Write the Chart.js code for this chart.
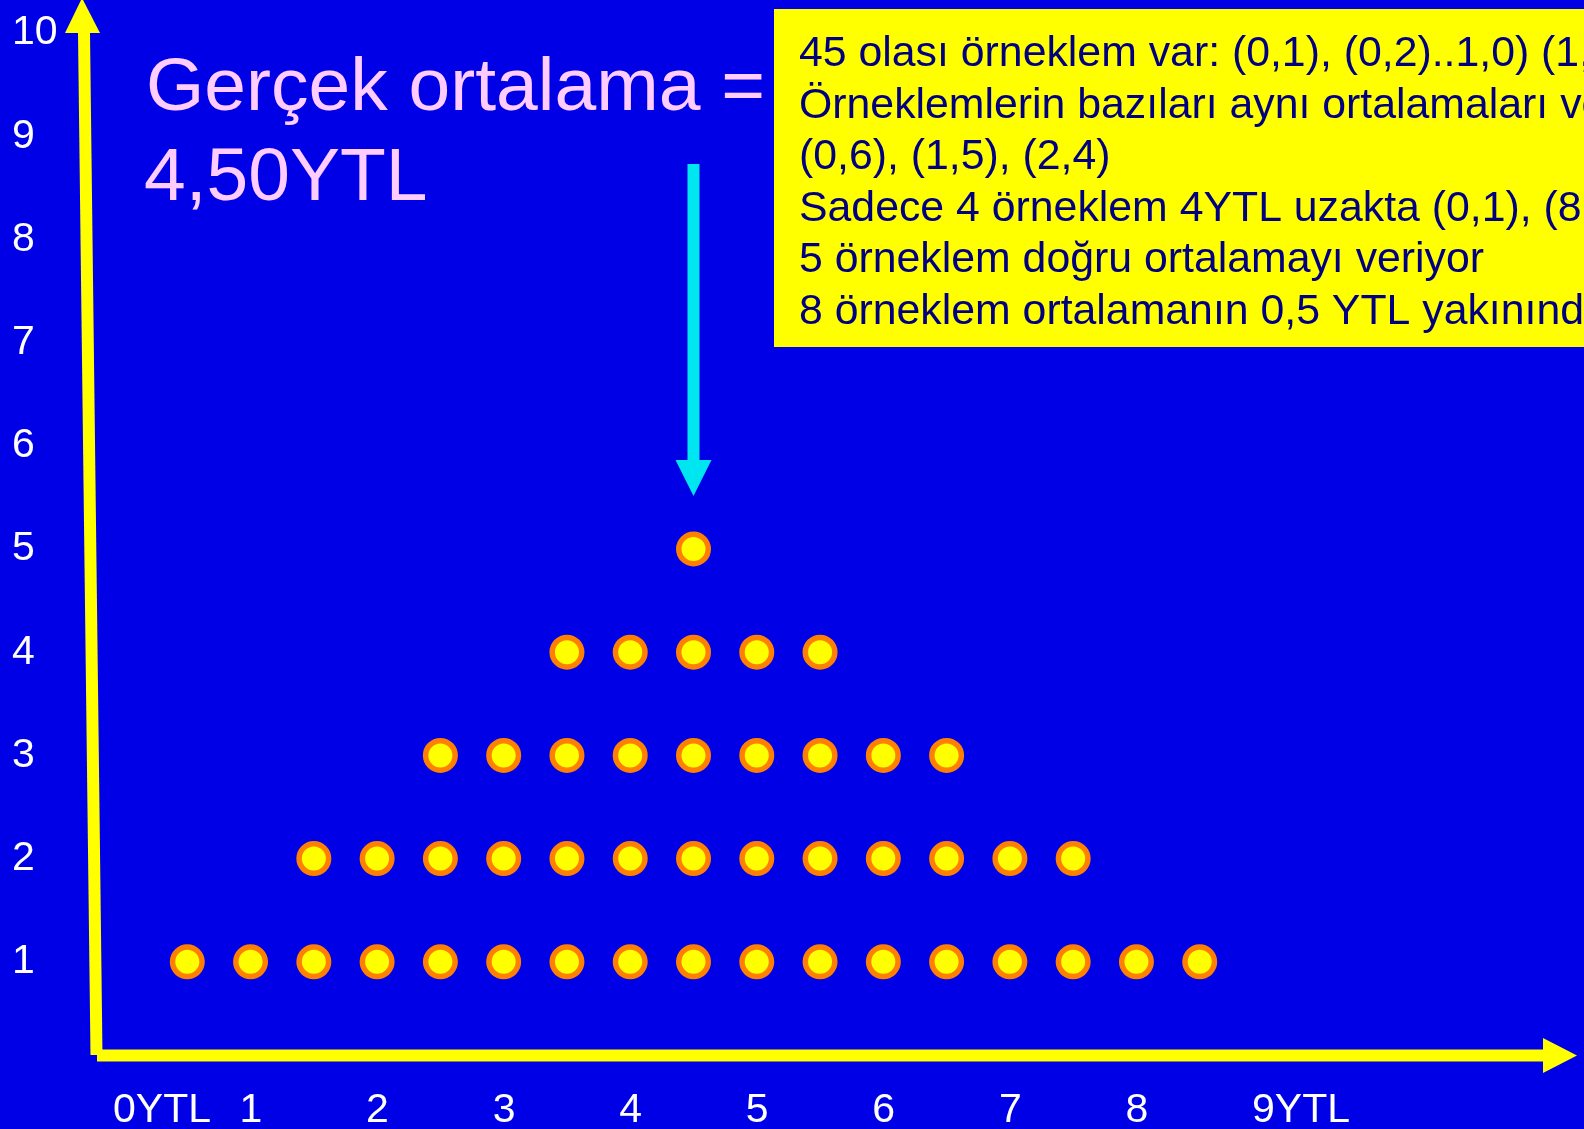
<!DOCTYPE html>
<html lang="tr">
<head>
<meta charset="utf-8">
<title>Örneklem ortalamaları</title>
<script src="https://cdn.jsdelivr.net/npm/chart.js@4.4.1/dist/chart.umd.min.js"></script>
<style>
  html, body { margin: 0; padding: 0; background: #0000e6; }
  #wrap { width: 1584px; height: 1129px; }
</style>
</head>
<body>
<div id="wrap"><canvas id="meansChart"></canvas></div>
<script>
// Data: the 17 possible sample means and how many of the 45 samples give each
const sampleMeans = [0.5, 1, 1.5, 2, 2.5, 3, 3.5, 4, 4.5, 5, 5.5, 6, 6.5, 7, 7.5, 8, 8.5];
const meanCounts  = [1, 1, 2, 2, 3, 3, 4, 4, 5, 4, 4, 3, 3, 2, 2, 1, 1];
const xTickLabels = ['0YTL', '1', '2', '3', '4', '5', '6', '7', '8', '9YTL'];
const trueMean = 4.5;

const titleLines = ['Gerçek ortalama =', '4,50YTL'];
const noteLines = [
  '45 olası örneklem var: (0,1), (0,2)..1,0) (1,2)..(8,9)',
  'Örneklemlerin bazıları aynı ortalamaları veriyor:',
  '(0,6), (1,5), (2,4)',
  'Sadece 4 örneklem 4YTL uzakta (0,1), (8,9)',
  '5 örneklem doğru ortalamayı veriyor',
  '8 örneklem ortalamanın 0,5 YTL yakınında'
];

const BLUE = '#0000e6';
const YELLOW = '#ffff00';
const ORANGE = '#ff8000';
const CYAN = '#00e6f0';
const PINK = '#ffccff';
const NAVY = '#000080';

Chart.defaults.font.family = '"Liberation Sans", Arial, sans-serif';

// one dot per sample, stacked above its mean
const dots = [];
sampleMeans.forEach((m, i) => {
  for (let k = 1; k <= meanCounts[i]; k++) {
    dots.push({ x: m, y: k });
  }
});

// Slide decorations: background, arrow axes, note box, title
const slideDecor = {
  id: 'slideDecor',
  beforeDraw(chart) {
    const ctx = chart.ctx;
    ctx.save();
    ctx.fillStyle = BLUE;
    ctx.fillRect(0, 0, chart.width, chart.height);
    ctx.restore();
  },
  beforeDatasetsDraw(chart) {
    const ctx = chart.ctx;
    const xs = chart.scales.x;
    ctx.save();

    // y axis with arrow
    ctx.strokeStyle = YELLOW;
    ctx.fillStyle = YELLOW;
    ctx.lineWidth = 12;
    ctx.lineCap = 'butt';
    ctx.beginPath();
    ctx.moveTo(96.5, 1055);
    ctx.lineTo(84, 33);
    ctx.stroke();
    ctx.beginPath();
    ctx.moveTo(65, 33);
    ctx.lineTo(100, 33);
    ctx.lineTo(82, -2);
    ctx.closePath();
    ctx.fill();

    // x axis with arrow
    ctx.beginPath();
    ctx.moveTo(97, 1055.5);
    ctx.lineTo(1544, 1055.5);
    ctx.stroke();
    ctx.beginPath();
    ctx.moveTo(1543, 1038);
    ctx.lineTo(1577, 1055.5);
    ctx.lineTo(1543, 1073);
    ctx.closePath();
    ctx.fill();

    // note box
    ctx.fillStyle = YELLOW;
    ctx.fillRect(774, 9, 900, 338);
    ctx.fillStyle = NAVY;
    ctx.font = '42.8px "Liberation Sans", Arial, sans-serif';
    ctx.textBaseline = 'alphabetic';
    ctx.textAlign = 'left';
    noteLines.forEach((line, i) => {
      ctx.fillText(line, 799, 66 + i * 51.5);
    });

    // title
    ctx.fillStyle = PINK;
    ctx.font = '75px "Liberation Sans", Arial, sans-serif';
    ctx.fillText(titleLines[0], 146, 110);
    ctx.fillText(titleLines[1], 144, 200);

    // arrow pointing at the true mean
    const ax = xs.getPixelForValue(trueMean);
    ctx.fillStyle = CYAN;
    ctx.fillRect(ax - 6, 164, 12, 298);
    ctx.beginPath();
    ctx.moveTo(ax - 18, 460);
    ctx.lineTo(ax + 18, 460);
    ctx.lineTo(ax, 496);
    ctx.closePath();
    ctx.fill();

    ctx.restore();
  }
};

const ctx = document.getElementById('meansChart');

new Chart(ctx, {
  type: 'scatter',
  data: {
    datasets: [{
      label: 'Örneklem ortalaması',
      data: dots,
      backgroundColor: YELLOW,
      borderColor: ORANGE,
      borderWidth: 5.5,
      pointRadius: 14.75,
      pointHoverRadius: 14.75
    }]
  },
  options: {
    responsive: true,
    maintainAspectRatio: false,
    animation: false,
    layout: { padding: { left: 12, top: 33, right: 321, bottom: 0 } },
    plugins: {
      legend: { display: false },
      tooltip: { enabled: false }
    },
    scales: {
      x: {
        type: 'linear',
        min: 0,
        max: 9,
        grid: { display: false, drawTicks: false },
        border: { display: false },
        afterFit: s => { s.height = 64; },
        ticks: {
          stepSize: 1,
          autoSkip: false,
          align: 'start',
          labelOffset: -11,
          padding: 21,
          color: '#ffffff',
          font: { size: 41 },
          callback: v => xTickLabels[v]
        }
      },
      y: {
        min: 0,
        max: 10,
        grid: { display: false, drawTicks: false },
        border: { display: false },
        afterFit: s => { s.width = 112; },
        ticks: {
          stepSize: 1,
          crossAlign: 'far',
          padding: 0,
          color: '#ffffff',
          font: { size: 41 },
          callback: v => (v === 0 ? '' : v)
        }
      }
    }
  },
  plugins: [slideDecor]
});
</script>
</body>
</html>
